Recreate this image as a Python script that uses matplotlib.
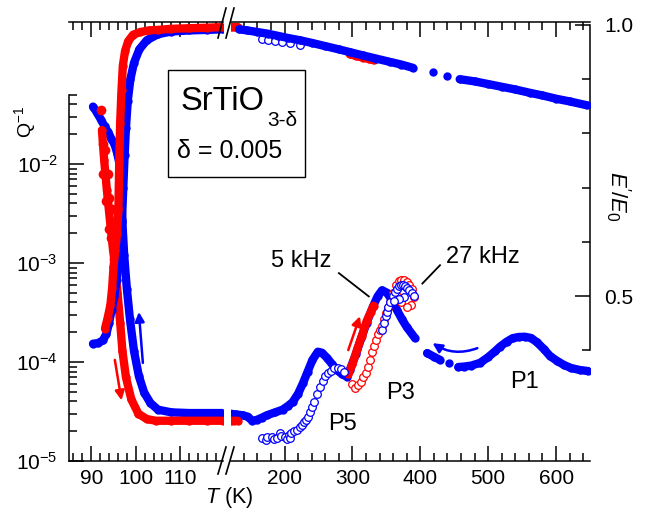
import numpy as np
import matplotlib
matplotlib.use("Agg")
import matplotlib.pyplot as plt
from matplotlib.ticker import FixedLocator, NullFormatter, MultipleLocator, LogFormatterMathtext
from matplotlib.patches import Rectangle
from matplotlib.lines import Line2D

plt.rcParams['font.family'] = ['Liberation Sans', 'DejaVu Sans']
plt.rcParams['mathtext.fontset'] = 'custom'
plt.rcParams['mathtext.rm'] = 'Liberation Sans'
plt.rcParams['mathtext.it'] = 'Liberation Sans:italic'
plt.rcParams['mathtext.bf'] = 'Liberation Sans:bold'

BLUE = '#0000ff'
RED = '#ff0000'
nan = np.nan

# ---------- low-T segment (85-120 K), 5 kHz ----------
# E'/E0, heating (blue) and cooling (red)
T_eb_lo = [90.4, 91.5, 92.6, 93.4, 94.0, 94.6, 95.2, 95.7, 96.2, 96.6, 96.9, 97.2, 97.5,
           97.8, 98.2, 98.8, 99.6, 100.8, 102.5, 105, 108, 112, 116, 119.5]
E_eb_lo = [0.412, 0.413, 0.418, 0.43, 0.45, 0.475, 0.50, 0.53, 0.56, 0.60, 0.64, 0.70, 0.76,
           0.81, 0.86, 0.90, 0.93, 0.955, 0.972, 0.983, 0.988, 0.99, 0.991, 0.992]
T_er_lo = [93.1, 93.7, 94.3, 94.7, 95.0, 95.4, 95.8, 96.1, 96.3, 96.5, 96.8, 97.1, 97.6,
           98.3, 99.4, 101.0, 103.0, 105.0, 108.0, 112.0, 116.0, 119.5]
E_er_lo = [0.44, 0.46, 0.483, 0.515, 0.553, 0.585, 0.616, 0.66, 0.75, 0.82, 0.88, 0.925, 0.952,
           0.97, 0.982, 0.987, 0.99, 0.991, 0.993, 0.994, 0.995, 0.996]

# internal friction Q^-1
T_qb_lo = [90.4, 91.3, 92.2, 93.0, 93.8, 94.5, 95.2, 95.8, 96.3, 96.7, 97.0, 97.4, 98.0,
           98.7, 99.6, 100.7, 101.9, 103.3, 105.0, 108.0, 112.0, 116.0, 119.5]
Q_qb_lo = [3.8e-2, 3.3e-2, 2.8e-2, 2.4e-2, 2.1e-2, 1.8e-2, 1.6e-2, 1.3e-2, 1.03e-2, 5e-3, 2.6e-3,
           1.2e-3, 5.5e-4, 2.7e-4, 1.3e-4, 7.2e-5, 4.9e-5, 3.85e-5, 3.3e-5, 3.1e-5, 3.05e-5,
           3.05e-5, 3.05e-5]
T_qr_lo = [92.4, 92.9, 93.5, 94.2, 94.9, 95.4, 95.9, 96.5, 97.0, 97.8, 99.0, 100.6, 102.5,
           104.5, 108, 112, 116, 119.5]
Q_qr_lo = [2.2e-2, 1.1e-2, 5.5e-3, 2.7e-3, 1.35e-3, 9e-4, 5e-4, 2.5e-4, 1.3e-4, 7e-5, 4.2e-5,
           3.0e-5, 2.65e-5, 2.55e-5, 2.55e-5, 2.55e-5, 2.55e-5, 2.55e-5]
# scattered cooling points below Tc
T_qr_sc = [92.3, 92.6, 93.2, 92.7, 93.8, 93.3, 94.0, 93.9, 94.5, 94.6, 95.1]
Q_qr_sc = [3.5e-2, 1.6e-2, 1.4e-2, 8e-3, 8e-3, 4.2e-3, 4.5e-3, 2.2e-3, 1.8e-3, 3.5e-3, 1.1e-3]

# ---------- high-T segment (121-650 K) ----------
T_eb_hi = [133, 145, 160, 175, 190, 205, 222, 240, 260, 280, 296, 315, 335, 355, 372, 389,
           nan, 419, nan, 440, nan, 458, 480, 500, 520, 540, 561, 580, 600, 620, 645]
E_eb_hi = [0.992, 0.990, 0.987, 0.984, 0.980, 0.976, 0.972, 0.967, 0.961, 0.955, 0.950,
           0.944, 0.938, 0.932, 0.927, 0.921, nan, 0.913, nan, 0.905, nan, 0.900, 0.896,
           0.891, 0.886, 0.881, 0.875, 0.870, 0.864, 0.859, 0.852]
T_er_hi = [121, 126, 131, nan, 296, 305, 315, 325, 331]
E_er_hi = [0.996, 0.996, 0.996, nan, 0.946, 0.943, 0.940, 0.937, 0.935]
# 27 kHz E'/E0
T_eo_hi = [166, 176, 186, 196, 208, 222]
E_eo_hi = [0.975, 0.973, 0.971, 0.969, 0.966, 0.963]

# 5 kHz Q^-1
T_qb_hi = [121, 128, 138, 146, 152, 159, 167, 174, 186, 197, 205, 212, 220, 227, 234, 241,
           249, 255, 262, 270, 277, 285, 292, 296, 305, 313, 321, 330, 337, 343.5, 351, 358,
           365.5, 373, 380, 392, nan, 410, 420, 429, nan, 442, nan, 456, 465, 475, 488, 500,
           510, 517, 527, 536, 545, 554, 563, 572, 582, 591, 601, 612, 622, 635, 647]
Q_qb_hi = [3.0e-5, 2.95e-5, 2.9e-5, 2.8e-5, 2.55e-5, 2.6e-5, 2.75e-5, 2.9e-5, 3.1e-5, 3.3e-5,
           3.6e-5, 3.95e-5, 4.8e-5, 6.1e-5, 8.0e-5, 1.05e-4, 1.27e-4, 1.24e-4, 1.11e-4, 9.5e-5,
           8.3e-5, 7.5e-5, 7.1e-5, 8.3e-5, 1.2e-4, 1.75e-4, 2.5e-4, 3.6e-4, 4.6e-4, 5.3e-4,
           5.0e-4, 4.2e-4, 3.35e-4, 2.7e-4, 2.25e-4, 1.75e-4, nan, 1.23e-4, 1.13e-4, 1.05e-4,
           nan, 9.8e-5, nan, 8.9e-5, 9.0e-5, 9.2e-5, 9.8e-5, 1.12e-4, 1.28e-4, 1.42e-4, 1.6e-4,
           1.74e-4, 1.79e-4, 1.8e-4, 1.75e-4, 1.58e-4, 1.35e-4, 1.15e-4, 1.03e-4, 9.3e-5,
           8.7e-5, 8.3e-5, 8.1e-5]
T_qr_hi = [121, 126, 131, nan, 294, 300, 307, 314, 321, 327, 331]
Q_qr_hi = [2.55e-5, 2.55e-5, 2.55e-5, nan, 7.6e-5, 9.5e-5, 1.35e-4, 1.85e-4, 2.6e-4, 3.2e-4, 3.7e-4]

# 27 kHz Q^-1 (open symbols)
T_qbo = [167, 172, 174, 181, 185, 189, 193, 195, 200, 203, 206, 208, 210, 214, 218, 222, 225,
         229, 232, 235, 238, 241, 244, 248, 252, 256, 260, 264, 268, 273, 278, 283, 288, 343,
         346, 349, 351, 353, 356, 359, 362, 366, 369, 372, 375, 378, 381, 384, 387, 390, 376,
         368, 361]
Q_qbo = [1.72e-5, 1.62e-5, 1.74e-5, 1.75e-5, 1.65e-5, 1.72e-5, 1.9e-5, 1.78e-5, 1.76e-5,
         1.65e-5, 1.85e-5, 1.72e-5, 1.92e-5, 2.0e-5, 2.07e-5, 2.2e-5, 2.3e-5, 2.45e-5, 2.6e-5,
         2.8e-5, 3.1e-5, 3.5e-5, 3.95e-5, 4.7e-5, 5.6e-5, 6.4e-5, 7.2e-5, 7.8e-5, 8.2e-5,
         8.6e-5, 8.6e-5, 8.4e-5, 8.0e-5, 2.1e-4, 2.5e-4, 2.9e-4, 3.2e-4, 3.6e-4, 4.0e-4, 4.6e-4,
         5.1e-4, 5.5e-4, 5.8e-4, 6.0e-4, 6.0e-4, 5.8e-4, 5.6e-4, 5.3e-4, 5.0e-4, 4.6e-4, 4.5e-4,
         4.3e-4, 4.1e-4]
T_qro = [300, 304, 308, 312, 316, 320, 323, 326, 329, 332, 335, 338, 341, 344, 347, 350, 353,
         356, 360, 364, 368, 372, 376, 380, 384, 388, 391, 386, 380, 372, 366]
Q_qro = [6.0e-5, 5.5e-5, 5.8e-5, 6.3e-5, 7.0e-5, 7.8e-5, 9.0e-5, 1.05e-4, 1.25e-4, 1.45e-4,
         1.65e-4, 1.9e-4, 2.1e-4, 2.3e-4, 2.7e-4, 3.1e-4, 3.5e-4, 4.0e-4, 5.0e-4, 6.0e-4,
         6.6e-4, 6.8e-4, 6.7e-4, 6.4e-4, 6.0e-4, 5.4e-4, 4.5e-4, 3.8e-4, 3.6e-4, 4.0e-4, 4.6e-4]

# ---------- layout ----------
W, H = 648, 508
fig = plt.figure(figsize=(W / 100, H / 100), dpi=100)


def px_box(x0, x1, y0=22, y1=461):
    return [x0 / W, 1 - y1 / H, (x1 - x0) / W, (y1 - y0) / H]


def fx(x):
    return x / W


def fy(y):
    return 1 - y / H


axL = fig.add_axes(px_box(69, 222.5))
axR = fig.add_axes(px_box(231, 590))
axL2 = axL.twinx()
axR2 = axR.twinx()

Q_LIM = (1e-5, 10 ** (-5 + 439 / 99))
E_LIM = (1 - 436 / 542, 1 + 3 / 542)

for ax in (axL, axR):
    ax.set_yscale('log')
    ax.set_ylim(*Q_LIM)
    ax.patch.set_visible(False)
axL.set_xlim(85, 119.5)
axR.set_xlim(121, 650)
for ax in (axL2, axR2):
    ax.set_ylim(*E_LIM)

LW = 1.1
for ax in (axL, axR, axL2, axR2):
    for s in ax.spines.values():
        s.set_linewidth(LW)
        s.set_visible(False)
for ax in (axL, axR):
    ax.spines['top'].set_visible(True)
    ax.spines['bottom'].set_visible(True)
axL.spines['left'].set_visible(True)
axL.spines['left'].set_bounds(1e-5, 5e-2)
axR2.spines['right'].set_visible(True)
axR2.spines['right'].set_bounds(0.4, 1.0)

# x ticks
axL.xaxis.set_major_locator(MultipleLocator(10))
axL.xaxis.set_minor_locator(MultipleLocator(2))
axR.xaxis.set_major_locator(MultipleLocator(100))
axR.xaxis.set_minor_locator(MultipleLocator(20))
for ax in (axL, axR):
    ax.tick_params(axis='x', which='both', direction='in', top=True, bottom=True,
                   labelsize=15, pad=6, width=LW)
    ax.tick_params(axis='x', which='major', length=11)
    ax.tick_params(axis='x', which='minor', length=6)

# Q^-1 ticks
q_major = [1e-5, 1e-4, 1e-3, 1e-2]
q_minor = [k * 10.0 ** d for d in (-5, -4, -3) for k in range(2, 10)] + [2e-2, 3e-2, 4e-2, 5e-2]
axL.yaxis.set_major_locator(FixedLocator(q_major))
axL.yaxis.set_minor_locator(FixedLocator(q_minor))
axL.yaxis.set_major_formatter(LogFormatterMathtext())
axL.yaxis.set_minor_formatter(NullFormatter())
axL.tick_params(axis='y', which='both', direction='in', left=True, right=False,
                labelsize=15, pad=8, width=LW)
axL.tick_params(axis='y', which='major', length=11)
axL.tick_params(axis='y', which='minor', length=6)
axR.tick_params(axis='y', which='both', left=False, right=False, labelleft=False)
axL2.tick_params(axis='y', which='both', left=False, right=False, labelright=False)

# E'/E0 ticks
axR2.yaxis.set_major_locator(FixedLocator([0.5, 1.0]))
axR2.yaxis.set_minor_locator(FixedLocator([0.4, 0.6, 0.7, 0.8, 0.9]))
axR2.yaxis.set_major_formatter(plt.FuncFormatter(lambda v, p: f"{v:.1f}"))
axR2.tick_params(axis='y', which='both', direction='in', right=True, labelsize=15,
                 pad=10, width=LW)
axR2.tick_params(axis='y', which='major', length=11)
axR2.tick_params(axis='y', which='minor', length=6)

# ---------- data ----------
BAND = dict(lw=6, ms=6, marker='o', solid_capstyle='round', solid_joinstyle='round', mew=0)
OPEN = dict(ls='none', marker='o', ms=5.5, mfc='white', mew=0.9)

# low-T part
axL.plot(T_qb_lo, Q_qb_lo, color=BLUE, zorder=3, **BAND)
axL.plot(T_qr_lo, Q_qr_lo, color=RED, zorder=4, **BAND)
axL.plot(T_qr_sc, Q_qr_sc, ls='none', marker='o', ms=7, mew=0, color=RED, zorder=4)
axL2.plot(T_eb_lo, E_eb_lo, color=BLUE, zorder=3, **BAND)
axL2.plot(T_er_lo, E_er_lo, color=RED, zorder=4, **BAND)

# high-T part
axR.plot(T_qb_hi, Q_qb_hi, color=BLUE, zorder=3, **BAND)
axR.plot(T_qr_hi, Q_qr_hi, color=RED, zorder=4, **BAND)
axR.plot(T_qro, Q_qro, mec=RED, zorder=5, **OPEN)
axR.plot(T_qbo, Q_qbo, mec=BLUE, zorder=6, **OPEN)
axR2.plot(T_eo_hi, E_eo_hi, mec=BLUE, zorder=2, **OPEN)
axR2.plot(T_er_hi, E_er_hi, color=RED, zorder=3, **BAND)
axR2.plot(T_eb_hi, E_eb_hi, color=BLUE, zorder=4, **BAND)

# heating / cooling arrows
arr = dict(arrowstyle='-|>', lw=1.8, mutation_scale=14, shrinkA=0, shrinkB=0)
axL.annotate('', xy=(96.8, 4.1e-5), xytext=(95.3, 1.05e-4),
             arrowprops=dict(color=RED, **arr), zorder=7)
axL.annotate('', xy=(100.7, 3.2e-4), xytext=(101.6, 9.8e-5),
             arrowprops=dict(color=BLUE, **arr), zorder=7)
axR.annotate('', xy=(311, 2.9e-4), xytext=(293.8, 1.32e-4),
             arrowprops=dict(color=RED, **arr), zorder=7)
axR.annotate('', xy=(418, 1.55e-4), xytext=(484, 1.38e-4),
             arrowprops=dict(color=BLUE, connectionstyle='arc3,rad=-0.25', **arr), zorder=7)

# leader lines for the two frequencies
axR.plot([280, 324], [7.9e-4, 4.6e-4], color='black', lw=1.3, zorder=8)
axR.plot([429, 403], [9.5e-4, 6.2e-4], color='black', lw=1.3, zorder=8)

# ---------- text ----------
fig.text(fx(301), fy(261), '5 kHz', fontsize=17, ha='center', va='center')
fig.text(fx(483), fy(257), '27 kHz', fontsize=17, ha='center', va='center')
fig.text(fx(343), fy(424), 'P5', fontsize=17, ha='center', va='center')
fig.text(fx(401), fy(393), 'P3', fontsize=17, ha='center', va='center')
fig.text(fx(525), fy(382), 'P1', fontsize=17, ha='center', va='center')

fig.add_artist(Rectangle((fx(168), fy(177)), 137 / W, 107 / H, transform=fig.transFigure,
                         facecolor='white', edgecolor='black', lw=1.0, zorder=9))
fig.text(fx(181), fy(110), 'SrTiO', fontsize=23.5, ha='left', va='baseline', zorder=10)
fig.text(fx(267), fy(126), '3-δ', fontsize=15, ha='left', va='baseline', zorder=10)
fig.text(fx(177), fy(158), 'δ = 0.005', fontsize=18, ha='left', va='baseline', zorder=10)

fig.text(fx(25), fy(122), r'Q$^{-1}$', fontsize=14, rotation=90, ha='center', va='center')
fig.text(fx(618), fy(196), r"$E'/E_{\mathrm{0}}$", fontsize=16, rotation=-90,
         ha='center', va='center')
fig.text(fx(229), fy(497), r'$T$ (K)', fontsize=15.5, ha='center', va='center')

# axis break marks
for (x0, y0, x1, y1) in [(218, 38, 226, 8), (226, 38, 234, 8),
                         (218, 474, 226, 447), (226, 474, 234, 447)]:
    fig.add_artist(Line2D([fx(x0), fx(x1)], [fy(y0), fy(y1)], transform=fig.transFigure,
                          color='black', lw=1.2))

fig.savefig('out.png', dpi=100)
